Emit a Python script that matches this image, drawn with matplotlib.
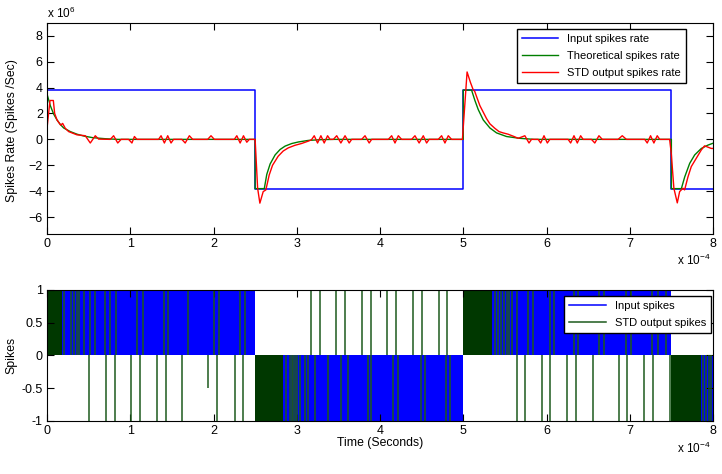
import numpy as np
import matplotlib.pyplot as plt
from matplotlib.lines import Line2D

plt.rcParams['font.family'] = ['Liberation Sans', 'DejaVu Sans']
plt.rcParams['mathtext.fontset'] = 'custom'
plt.rcParams['mathtext.rm'] = 'Liberation Sans'

# time in units of 1e-4 s, rates in units of 1e6 spikes/s
switch_t = [0, 2.5, 5.0, 7.5, 8.0]
input_rate = [3.8, -3.8, 3.8, -3.8]

theory_t = [0, 0.04, 0.08, 0.12, 0.16, 0.2, 0.28, 0.36, 0.44, 0.55, 0.7, 0.85,
            2.5, 2.5, 2.61, 2.64, 2.68, 2.74, 2.8, 2.86, 2.94, 3.02, 3.14, 3.3, 3.45,
            5.0, 5.0, 5.1, 5.14, 5.18, 5.24, 5.32, 5.4, 5.52, 5.68, 5.85,
            7.5, 7.5, 7.62, 7.66, 7.72, 7.78, 7.86, 7.94, 8.0]
theory_rate = [3.5, 2.6, 1.95, 1.5, 1.15, 0.88, 0.6, 0.4, 0.26, 0.13, 0.05, 0.0,
               0.0, -3.8, -3.8, -2.7, -1.9, -1.2, -0.78, -0.52, -0.32, -0.2, -0.08, -0.02, 0.0,
               0.0, 3.8, 3.8, 3.0, 2.3, 1.5, 0.88, 0.5, 0.22, 0.08, 0.0,
               0.0, -3.8, -3.8, -2.9, -1.85, -1.2, -0.7, -0.44, -0.3]

std_t = [0, 0.036, 0.076, 0.092, 0.12, 0.164, 0.188, 0.22, 0.26, 0.3, 0.36, 0.44,
         0.46, 0.52, 0.58, 0.62, 0.76, 0.8, 0.85, 0.89, 0.98, 1.02, 1.05, 1.08,
         1.34, 1.37, 1.41, 1.45, 1.49, 1.52, 1.62, 1.66, 1.71, 1.75, 1.93, 1.97, 2.01,
         2.25, 2.28, 2.32, 2.36, 2.4, 2.43, 2.5,
         2.53, 2.557, 2.597, 2.629, 2.669, 2.709, 2.777, 2.837, 2.897, 2.977, 3.057, 3.137, 3.177,
         3.21, 3.25, 3.29, 3.33, 3.37, 3.4, 3.44, 3.48, 3.53, 3.58, 3.63, 3.66,
         3.78, 3.82, 3.87, 3.9, 4.1, 4.14, 4.18, 4.22, 4.26,
         4.38, 4.42, 4.47, 4.52, 4.56, 4.59, 4.7, 4.74, 4.78, 4.82, 4.86, 4.99,
         5.006, 5.046, 5.086, 5.118, 5.138, 5.16, 5.2, 5.24, 5.28, 5.32, 5.38, 5.43,
         5.478, 5.538, 5.618, 5.66, 5.74, 5.79, 5.82,
         5.9, 5.93, 5.97, 6.01, 6.04, 6.26, 6.29, 6.33, 6.37, 6.41, 6.44,
         6.54, 6.58, 6.63, 6.67, 6.86, 6.91, 6.96,
         7.18, 7.21, 7.25, 7.29, 7.33, 7.36, 7.479,
         7.499, 7.53, 7.571, 7.599, 7.639, 7.659, 7.699, 7.739, 7.799, 7.859, 7.899, 7.939, 7.979, 8.0]
std_rate = [0.85, 3.0, 3.0, 2.0, 1.5, 1.1, 1.23, 0.85, 0.6, 0.5, 0.35, 0.3,
            0.28, -0.28, 0.28, 0.02, 0.0, 0.28, -0.28, 0.0, 0.0, -0.28, 0.22, 0.0,
            0.0, 0.28, -0.28, 0.28, -0.28, 0.0, 0.0, -0.28, 0.28, 0.0, 0.0, 0.28, 0.0,
            0.0, 0.28, -0.28, 0.28, -0.22, 0.0, 0.0,
            -3.77, -4.92, -4.03, -3.9, -2.75, -2.0, -1.3, -0.9, -0.66, -0.46, -0.32, -0.14, -0.03,
            0.28, -0.28, 0.28, -0.28, 0.28, 0.0, 0.0, 0.28, -0.28, 0.28, -0.28, 0.0,
            0.0, 0.28, -0.28, 0.0, 0.0, 0.28, -0.28, 0.28, 0.0,
            0.0, 0.28, -0.28, 0.28, -0.28, 0.0, 0.0, 0.28, -0.28, 0.28, 0.0, 0.0,
            1.5, 5.2, 4.4, 3.85, 3.7, 3.3, 2.6, 2.1, 1.6, 1.2, 0.85, 0.6,
            0.5, 0.4, 0.2, 0.08, 0.28, -0.28, 0.0,
            0.0, -0.28, 0.28, -0.28, 0.0, 0.0, -0.28, 0.28, -0.28, 0.28, 0.0,
            0.0, -0.28, 0.28, 0.0, 0.0, 0.28, 0.0,
            0.0, -0.28, 0.28, -0.28, 0.28, 0.0, 0.0,
            -1.1, -3.77, -4.9, -4.03, -3.77, -3.9, -2.9, -2.1, -1.46, -0.82, -0.5, -0.6, -0.7, -0.7]

# spike trains (time in 1e-4 s)
input_block_start = [0, 2.5, 5.0, 7.5]
input_block_end = [2.5, 5.0, 7.5, 8.0]
block_sign = [1, -1, 1, -1]
out_dense_start = [0, 2.5, 5.0, 7.5]
out_dense_end = [0.185, 2.83, 5.35, 7.86]
out_spikes_up = [0.204, 0.29, 0.33, 0.36, 0.39, 0.45, 0.52, 0.575, 0.70, 0.76, 0.83,
                 1.076, 1.156, 1.40, 1.455, 1.695, 2.0, 2.066, 2.316, 2.375,
                 3.169, 3.277, 3.477, 3.577, 3.785, 3.897, 4.089, 4.197, 4.397, 4.505, 4.705, 4.809,
                 5.38, 5.42, 5.45, 5.49, 5.52, 5.55, 5.59, 5.64, 5.78, 5.84, 6.04, 6.09,
                 6.33, 6.38, 6.63, 6.69, 6.95, 7.01, 7.27, 7.34, 7.44]
out_spikes_down = [0.508, 0.708, 0.812, 1.012, 1.12, 1.32, 1.424, 1.624, 2.037, 2.253, 2.357,
                   2.865, 2.917, 2.94, 2.957, 2.98, 2.997, 3.037, 3.097, 3.137, 3.217, 3.377,
                   3.537, 3.617, 3.857, 3.897, 4.157, 4.217, 4.497, 4.537, 4.797, 4.837,
                   5.646, 5.746, 5.946, 6.046, 6.246, 6.354, 6.554, 6.866, 6.966, 7.17, 7.274, 7.478,
                   7.88, 7.92, 7.95, 7.98]
out_spikes_half = [1.937]

BLUE = '#0000ff'
GREEN = '#007f00'
RED = '#ff0000'
SPK_GREEN = '#1d5a1d'
DENSE_GREEN = '#003800'

fig = plt.figure(figsize=(7.22, 4.74), dpi=100)
W, H = 722, 474
ax1 = fig.add_axes([47 / W, 1 - 234 / H, 666 / W, (234 - 22.7) / H])
ax2 = fig.add_axes([47 / W, 1 - 420.7 / H, 666 / W, (420.7 - 290) / H])

# top: rates
ax1.step(switch_t, input_rate + [input_rate[-1]], where='post', color=BLUE, lw=1.1,
         label='Input spikes rate')
ax1.plot(theory_t, theory_rate, color=GREEN, lw=1.0, label='Theoretical spikes rate')
ax1.plot(std_t, std_rate, color=RED, lw=1.0, label='STD output spikes rate')
ax1.set_xlim(0, 8)
ax1.set_ylim(-7.3, 9)
ax1.set_xticks(range(0, 9))
ax1.set_yticks(range(-6, 9, 2))
ax1.legend(loc='upper right', bbox_to_anchor=(686 / W, 1 - 29.3 / H),
           bbox_transform=fig.transFigure, fontsize=8, frameon=True, fancybox=False,
           edgecolor='black', framealpha=1, handlelength=3.3, labelspacing=0.62,
           borderpad=0.45, borderaxespad=0)

# bottom: spikes
for s, e, sg in zip(input_block_start, input_block_end, block_sign):
    ax2.bar(s, sg, width=e - s, align='edge', color=BLUE, lw=0)
for s, e, sg in zip(out_dense_start, out_dense_end, block_sign):
    ax2.bar(s, sg, width=e - s, align='edge', color=DENSE_GREEN, lw=0)
ax2.vlines(out_spikes_up, 0, 1, color=SPK_GREEN, lw=1.1)
ax2.vlines(out_spikes_down, -1, 0, color=SPK_GREEN, lw=1.1)
ax2.vlines(out_spikes_half, -0.5, 0, color=SPK_GREEN, lw=1.1)
ax2.set_xlim(0, 8)
ax2.set_ylim(-1, 1)
ax2.set_xticks(range(0, 9))
ax2.set_yticks([-1, -0.5, 0, 0.5, 1])
ax2.set_yticklabels(['-1', '-0.5', '0', '0.5', '1'])
handles = [Line2D([], [], color=BLUE, lw=1.1), Line2D([], [], color=SPK_GREEN, lw=1.1)]
ax2.legend(handles, ['Input spikes', 'STD output spikes'], loc='upper right',
           bbox_to_anchor=(711 / W, 1 - 296 / H), bbox_transform=fig.transFigure,
           fontsize=8, frameon=True, fancybox=False, edgecolor='black', framealpha=1,
           handlelength=3.3, labelspacing=0.62, borderpad=0.45, borderaxespad=0)

for ax in (ax1, ax2):
    ax.tick_params(direction='in', top=True, right=True, length=5, width=0.8,
                   labelsize=9, pad=3)
    for sp in ax.spines.values():
        sp.set_linewidth(0.8)

fig.text(11.7 / W, 1 - 131 / H, 'Spikes Rate (Spikes /Sec)', rotation=90,
         ha='center', va='center', fontsize=8.8)
fig.text(11.7 / W, 1 - 355 / H, 'Spikes', rotation=90, ha='center', va='center', fontsize=8.8)
fig.text(380 / W, 1 - 443 / H, 'Time (Seconds)', ha='center', va='center', fontsize=8.8)
fig.text(47 / W, 1 - 18 / H, r'x 10$^{6}$', ha='left', va='baseline', fontsize=8.5)
fig.text(711 / W, 1 - 265 / H, r'x 10$^{-4}$', ha='right', va='baseline', fontsize=8.5)
fig.text(711 / W, 1 - 453 / H, r'x 10$^{-4}$', ha='right', va='baseline', fontsize=8.5)

fig.savefig('out.png', dpi=100)
